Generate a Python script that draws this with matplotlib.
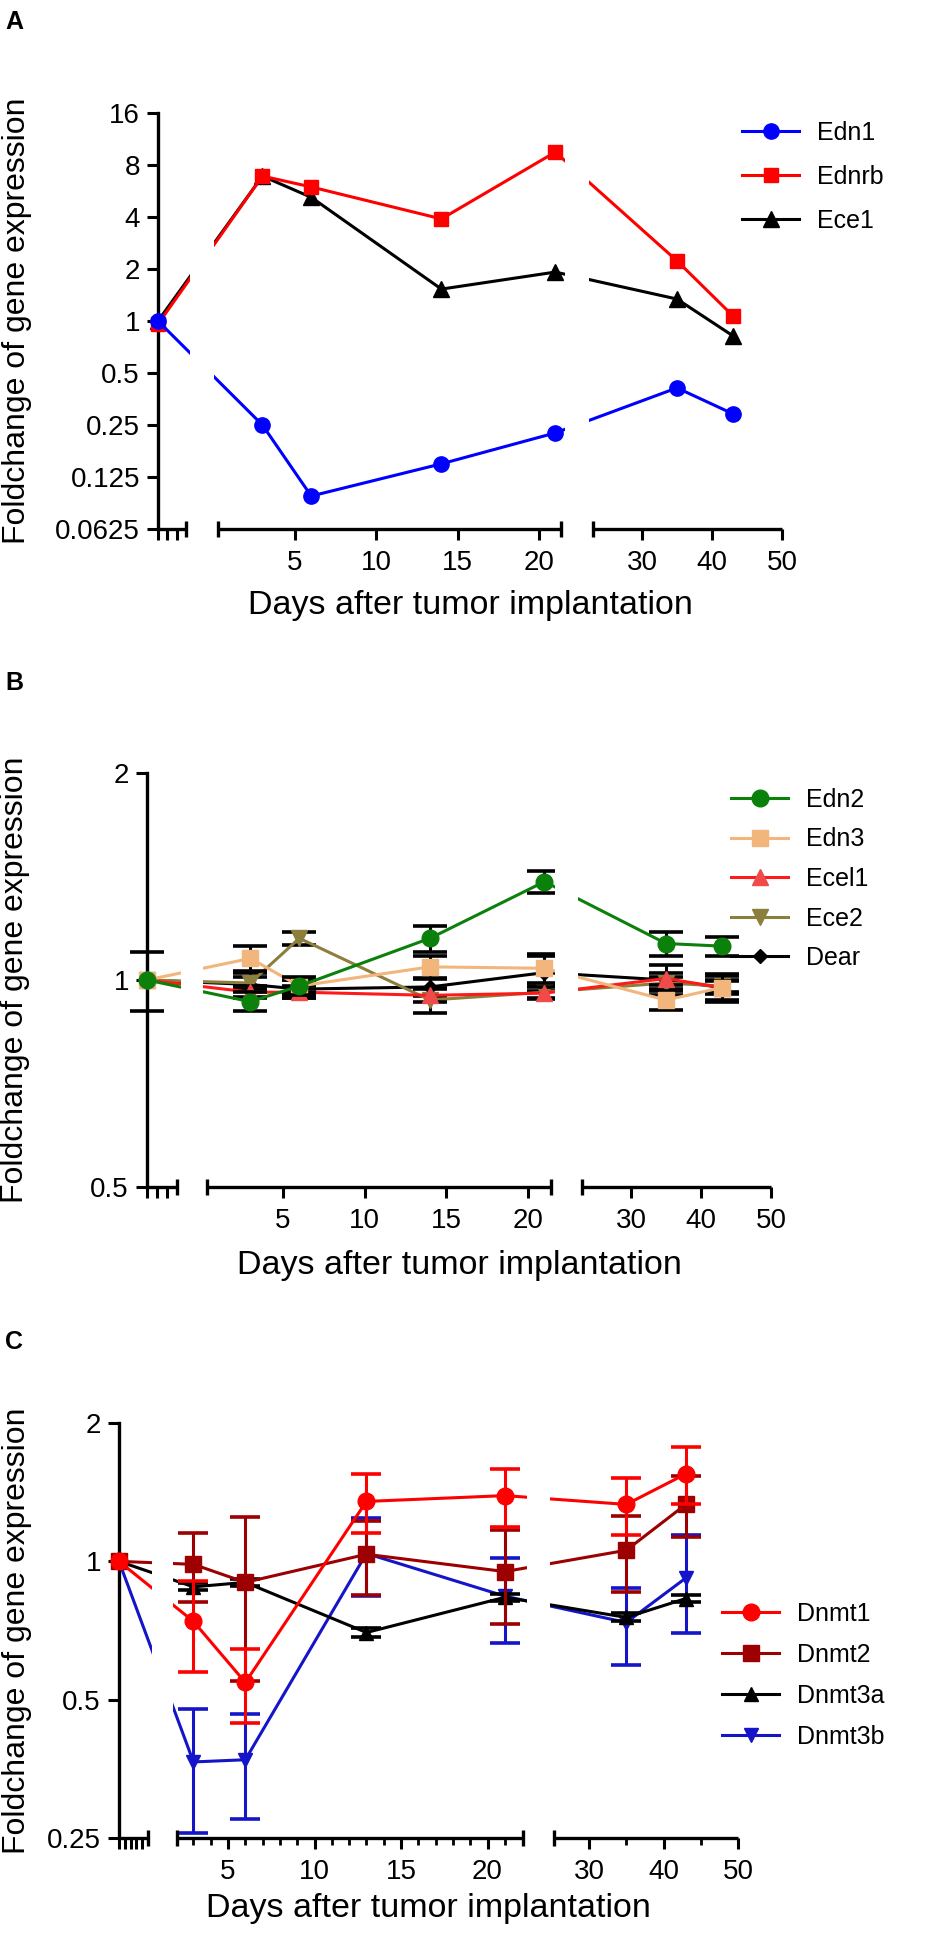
import numpy as np
import matplotlib
matplotlib.use("Agg")
import matplotlib.pyplot as plt
from matplotlib.lines import Line2D
from matplotlib.ticker import NullLocator

plt.rcParams['font.family'] = ['Liberation Sans', 'DejaVu Sans']

# ---------------- data ----------------
days_A = [0, 3, 6, 14, 21, 35, 43]
edn1 = [1.00, 0.25, 0.097, 0.149, 0.225, 0.41, 0.29]
ednrb = [0.96, 6.9, 5.97, 3.9, 9.5, 2.23, 1.07]
ece1 = [1.00, 6.9, 5.2, 1.53, 1.92, 1.34, 0.82]

days_B = [0, 3, 6, 14, 21, 35, 43]
edn2 = [1.00, 0.93, 0.98, 1.15, 1.39, 1.13, 1.12]
edn3 = [1.00, 1.075, 0.98, 1.045, 1.04, 0.935, 0.975]
ecel1 = [1.00, 0.96, 0.96, 0.95, 0.957, 1.005, 0.975]
ece2 = [1.00, 0.99, 1.15, 0.935, 0.96, 0.99, 0.98]
dear = [1.00, 0.985, 0.97, 0.977, 1.025, 1.00, 0.975]
edn2_err = [0, 0.03, 0.03, 0.05, 0.05, 0.045, 0.035]
edn3_err = [0, 0.045, 0.02, 0.04, 0.05, 0.03, 0.045]
ecel1_err = [0, 0.02, 0.02, 0.02, 0.02, 0.02, 0.02]
ece2_err = [0, 0.02, 0.025, 0.04, 0.02, 0.02, 0.02]
dear_err = [0.10, 0.04, 0.03, 0.03, 0.06, 0.05, 0.04]

days_C = [0, 3, 6, 13, 21, 35, 43]
dnmt1 = [1.00, 0.74, 0.545, 1.35, 1.39, 1.33, 1.55]
dnmt2 = [1.00, 0.985, 0.90, 1.036, 0.95, 1.057, 1.33]
dnmt3a = [1.00, 0.88, 0.90, 0.70, 0.835, 0.755, 0.83]
dnmt3b = [1.00, 0.366, 0.37, 1.04, 0.84, 0.736, 0.92]
dnmt1_err = [0, 0.165, 0.10, 0.20, 0.20, 0.19, 0.22]
dnmt2_err = [0, 0.17, 0.35, 0.19, 0.22, 0.20, 0.20]
dnmt3a_err = [0, 0.015, 0.015, 0.015, 0.015, 0.015, 0.015]
dnmt3b_err = [0, 0.11, 0.095, 0.20, 0.175, 0.14, 0.22]

x_major = [5, 10, 15, 20, 30, 40, 50]
x_major_labels = ['5', '10', '15', '20', '30', '40', '50']
yt_A = [0.0625, 0.125, 0.25, 0.5, 1, 2, 4, 8, 16]
ytl_A = ['0.0625', '0.125', '0.25', '0.5', '1', '2', '4', '8', '16']
yt_B = [0.5, 1, 2]
ytl_B = ['0.5', '1', '2']
yt_C = [0.25, 0.5, 1, 2]
ytl_C = ['0.25', '0.5', '1', '2']
C_minor = [3, 4, 6, 7, 8, 9, 11, 12, 13, 14, 16, 17, 18, 19, 21, 35, 45]

XLABEL = 'Days after tumor implantation'
YLABEL = 'Foldchange of gene expression'

# ---------------- layout ----------------
W, H = 945, 1937
fig = plt.figure(figsize=(W / 100, H / 100), dpi=100)


def make_pw(dk, pk):
    dk = np.asarray(dk, float)
    pk = np.asarray(pk, float)

    def lin(x, a, b):
        x = np.asarray(x, float)
        y = np.interp(x, a, b)
        s0 = (b[1] - b[0]) / (a[1] - a[0])
        s1 = (b[-1] - b[-2]) / (a[-1] - a[-2])
        y = np.where(x < a[0], b[0] + (x - a[0]) * s0, y)
        y = np.where(x > a[-1], b[-1] + (x - a[-1]) * s1, y)
        return y

    return (lambda x: lin(x, dk, pk)), (lambda y: lin(y, pk, dk))


def panel(rect, dk, pk, ylim, yt, ytl, seg1_n, minor, xlab_y, ylab_x):
    l, t, r, b = rect
    ax = fig.add_axes([l / W, 1 - b / H, (r - l) / W, (b - t) / H])
    fwd, inv = make_pw(dk, pk)
    ax.set_xscale('function', functions=(fwd, inv))
    ax.set_yscale('log', base=2)
    ax.set_xlim(dk[0], dk[-1])
    ax.set_ylim(*ylim)
    ax.set_yticks(yt)
    ax.set_yticklabels(ytl)
    ax.yaxis.set_minor_locator(NullLocator())
    seg1 = list(inv(np.linspace(pk[0], pk[1], seg1_n + 2))[:-1])
    ax.set_xticks(seg1 + x_major)
    ax.set_xticklabels([''] * len(seg1) + x_major_labels)
    ax.set_xticks(minor, minor=True)
    for s in ['top', 'right', 'bottom']:
        ax.spines[s].set_visible(False)
    ax.spines['left'].set_linewidth(2.4)
    ax.tick_params(axis='y', which='major', length=8, width=2.2, labelsize=20, pad=5)
    ax.tick_params(axis='x', which='major', length=8, width=2.2, labelsize=20, pad=7)
    ax.tick_params(axis='x', which='minor', length=5, width=2.0)
    tr = ax.get_xaxis_transform()
    for s, e in [(dk[0], dk[1]), (dk[2], dk[3]), (dk[4], dk[5])]:
        ax.plot([s, e], [0, 0], transform=tr, color='k', lw=2.4, clip_on=False,
                zorder=12, solid_capstyle='butt')
    ax.plot([dk[1], dk[2], dk[3], dk[4]], [0, 0, 0, 0], transform=tr, ls='none',
            marker='|', ms=12, mew=2.4, color='k', clip_on=False, zorder=12)
    for pa, pb in [(pk[1] + 4, pk[2] - 4), (pk[3] + 4, pk[4] - 4)]:
        ax.axvspan(float(inv(pa)), float(inv(pb)), color='white', lw=0, zorder=10)
    ax.set_xlabel(XLABEL, fontsize=24.5)
    ax.xaxis.set_label_coords(0.5, xlab_y)
    ax.set_ylabel(YLABEL, fontsize=23)
    ax.yaxis.set_label_coords(ylab_x, 0.5)
    return ax


def series(ax, days, vals, err, color, marker, ms, z, mfc=None, ecolor=None, capsize=11):
    d = np.asarray(days, float)
    v = np.asarray(vals, float)
    if err is not None:
        e = np.asarray(err, float)
        m = e > 0
        eb = ax.errorbar(d[m], v[m], yerr=e[m], fmt='none', ecolor=ecolor or color,
                         elinewidth=2.2, capsize=capsize, capthick=2.6, zorder=z)
        for art in list(eb.lines[1]) + list(eb.lines[2]):
            art.set_clip_on(False)
    fc = mfc or color
    ax.plot(d, v, color=color, lw=2.2, marker=marker, ms=ms, mfc=fc, mec=fc,
            zorder=z + 0.05, clip_on=False)
    return Line2D([], [], color=color, lw=2.2, marker=marker, ms=ms, mfc=fc, mec=fc)


def legend(ax, handles, labels, left_px, top_px, spacing):
    ax.legend(handles, labels, loc='upper left',
              bbox_to_anchor=(left_px / W, 1 - top_px / H), bbox_transform=fig.transFigure,
              frameon=False, fontsize=18, handlelength=2.3, handletextpad=0.7,
              labelspacing=spacing, borderpad=0, borderaxespad=0, numpoints=1)


# ---------------- Panel A ----------------
axA = panel((158, 113, 782, 529), [0, 0.2, 0.27, 21.35, 23, 50],
            [158, 186, 218, 561, 593, 782], (0.0625, 16), yt_A, ytl_A, 2, [],
            -0.147, -0.202)
hA3 = series(axA, days_A, ece1, None, 'black', '^', 11, 3.0)
hA2 = series(axA, days_A, ednrb, None, '#FF0000', 's', 10.5, 3.2)
hA1 = series(axA, days_A, edn1, None, '#0000FF', 'o', 11, 3.4)
legend(axA, [hA1, hA2, hA3], ['Edn1', 'Ednrb', 'Ece1'], 742, 121, 0.8)

# ---------------- Panel B ----------------
axB = panel((147, 773, 771, 1187), [0, 0.2, 0.35, 21.4, 23, 50],
            [147, 177, 207, 551, 582, 771], (0.5, 2), yt_B, ytl_B, 2, [],
            -0.152, -0.1875)
hB5 = series(axB, days_B, dear, dear_err, 'black', 'D', 7, 3.0, ecolor='black', capsize=12)
hB4 = series(axB, days_B, ece2, ece2_err, '#8C7E3C', 'v', 11, 3.2, ecolor='black', capsize=12)
hB3 = series(axB, days_B, ecel1, ecel1_err, '#FF1A1A', '^', 11, 3.4, mfc='#F04A4A',
             ecolor='black', capsize=12)
hB2 = series(axB, days_B, edn3, edn3_err, '#F2B57C', 's', 12, 3.6, ecolor='black', capsize=12)
hB1 = series(axB, days_B, edn2, edn2_err, '#0B800B', 'o', 12, 3.8, ecolor='black', capsize=12)
legend(axB, [hB1, hB2, hB3, hB4, hB5], ['Edn2', 'Edn3', 'Ecel1', 'Ece2', 'Dear'],
       731, 788, 0.62)

# ---------------- Panel C ----------------
axC = panel((119, 1423, 738, 1838), [0, 1.5, 2.05, 22.05, 25.3, 50],
            [119, 148, 177, 523, 554, 738], (0.25, 2), yt_C, ytl_C, 4, C_minor,
            -0.1325, -0.1405)
hC4 = series(axC, days_C, dnmt3b, dnmt3b_err, '#1414C8', 'v', 10, 3.0)
hC3 = series(axC, days_C, dnmt3a, dnmt3a_err, 'black', '^', 10, 3.2)
hC2 = series(axC, days_C, dnmt2, dnmt2_err, '#9C0000', 's', 12, 3.4)
hC1 = series(axC, days_C, dnmt1, dnmt1_err, '#FF0000', 'o', 12, 3.6)
legend(axC, [hC1, hC2, hC3, hC4], ['Dnmt1', 'Dnmt2', 'Dnmt3a', 'Dnmt3b'],
       722, 1602, 0.68)

# ---------------- panel letters ----------------
for lab, y in [('A', 22), ('B', 683), ('C', 1342)]:
    fig.text(5 / W, 1 - y / H, lab, fontsize=18, fontweight='bold', va='center', ha='left')

fig.savefig('out.png', dpi=100)
